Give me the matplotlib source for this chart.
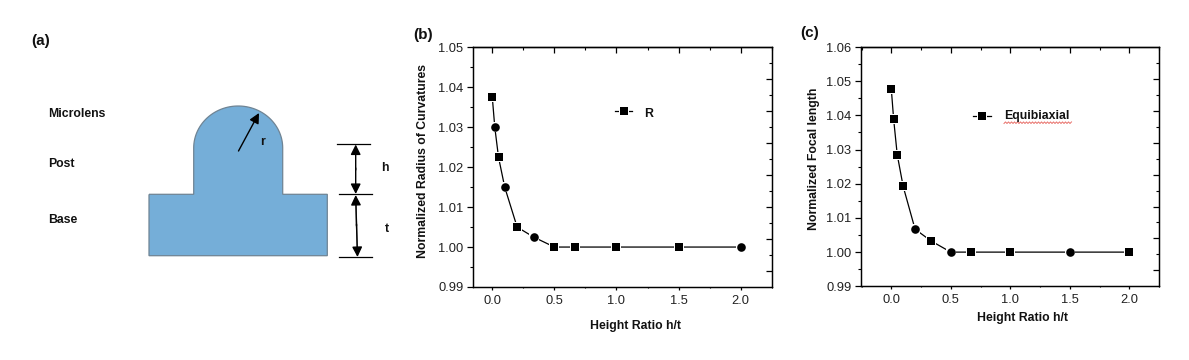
import numpy as np
import matplotlib
matplotlib.use('Agg')
import matplotlib.pyplot as plt
from matplotlib.patches import PathPatch
from matplotlib.path import Path
from matplotlib.ticker import MultipleLocator

W, H = 1189, 360

height_ratio = [0.0, 0.02, 0.05, 0.1, 0.2, 0.333, 0.5, 0.667, 1.0, 1.5, 2.0]
radius_curv = [1.0375, 1.030, 1.0225, 1.015, 1.005, 1.0025, 1.0, 1.0, 1.0, 1.0, 1.0]
focal_length = [1.0478, 1.0388, 1.0285, 1.0192, 1.0067, 1.0033, 1.0, 1.0, 1.0, 1.0, 1.0]
round_b = [1, 3, 5, 10]  # these symbols come out round in the source image
round_c = [4, 6, 9]
x_ticks = [0.0, 0.5, 1.0, 1.5, 2.0]

plt.rcParams['font.family'] = ['Liberation Sans', 'DejaVu Sans']
plt.rcParams['text.color'] = '#111111'

fig = plt.figure(figsize=(W / 100, H / 100), dpi=100, facecolor='white')


def add_axes_px(left, top, right, bottom):
    return fig.add_axes([left / W, 1 - bottom / H, (right - left) / W, (bottom - top) / H])


def text_px(x, y, s, **kw):
    kw.setdefault('fontweight', 'bold')
    kw.setdefault('fontsize', 8.8)
    kw.setdefault('va', 'center')
    fig.text(x / W, 1 - y / H, s, zorder=10, **kw)


def draw_panel(box, yvals, rounds, ylim, xlim):
    ax = add_axes_px(*box)
    ax.plot(height_ratio, yvals, '-', color='black', lw=0.9, zorder=2)
    # white halo gives the gap between line and symbol
    ax.plot(height_ratio, yvals, 's', color='white', ms=7.6, mew=0, zorder=3)
    squares = [i for i in range(len(yvals)) if i not in rounds]
    ax.plot(height_ratio, yvals, 's', color='black', ms=5.4, mew=0, markevery=squares, zorder=4)
    ax.plot(height_ratio, yvals, 'o', color='black', ms=6.2, mew=0, markevery=rounds, zorder=4)
    ax.set_xlim(*xlim)
    ax.set_ylim(*ylim)
    ax.set_xticks(x_ticks)
    ax.xaxis.set_minor_locator(MultipleLocator(0.25))
    ax.yaxis.set_major_locator(MultipleLocator(0.01))
    ax.yaxis.set_minor_locator(MultipleLocator(0.005))
    ax.xaxis.set_major_formatter(lambda v, p: f'{v:.1f}')
    ax.yaxis.set_major_formatter(lambda v, p: f'{v:.2f}')
    ax.tick_params(axis='y', which='major', labelsize=9.3, length=4, width=0.9, labelcolor='#222222', pad=3)
    ax.tick_params(axis='x', which='major', labelsize=9.3, length=2, width=0.9, labelcolor='#222222', pad=3.5)
    ax.tick_params(axis='y', which='minor', length=2, width=0.8)
    ax.tick_params(axis='x', which='minor', length=1, width=0.8)
    top = ax.secondary_xaxis('top')
    top.set_xticks(x_ticks)
    top.xaxis.set_minor_locator(MultipleLocator(0.25))
    top.tick_params(axis='x', which='major', direction='in', length=4, width=0.9, labeltop=False)
    top.tick_params(axis='x', which='minor', direction='in', length=2, width=0.8)
    right = ax.twinx()
    right.set_ylim(0, 15)
    right.set_yticks(range(1, 15, 2))
    right.set_yticks(range(2, 15, 2), minor=True)
    right.tick_params(axis='y', which='major', direction='in', length=4, width=0.9, labelright=False)
    right.tick_params(axis='y', which='minor', direction='in', length=2, width=0.8)
    for a in (ax, right):
        for s in a.spines.values():
            s.set_linewidth(0.9)
    top.spines['top'].set_linewidth(0.9)
    return ax


def legend_key(x0, x1, y):
    fig.add_artist(plt.Line2D([x0 / W, x1 / W], [1 - y / H] * 2, color='black', lw=0.9))
    xm = (x0 + x1) / 2
    fig.add_artist(plt.Line2D([xm / W], [1 - y / H], marker='s', color='white', ms=7.6, mew=0))
    fig.add_artist(plt.Line2D([xm / W], [1 - y / H], marker='s', color='black', ms=5.4, mew=0))


# panel (a), drawn in pixel coordinates of the figure
sk = fig.add_axes([0, 0, 1, 1], zorder=5)
sk.set_xlim(0, W)
sk.set_ylim(H, 0)
sk.axis('off')

theta = np.linspace(np.pi, 0, 60)
dome_x = 238.2 + 44.5 * np.cos(theta)
dome_y = 148 - 42 * np.sin(theta)
outline = [(149, 194.3), (193.7, 194.3)] + list(zip(dome_x, dome_y)) + [(282.7, 194.3), (327.3, 194.3), (327.3, 255.7), (149, 255.7), (149, 194.3)]
sk.add_patch(PathPatch(Path(outline), facecolor='#75AED8', edgecolor='#6f8494', lw=0.9))

arrow_black = dict(arrowstyle='-|>', color='black', lw=1.0, mutation_scale=15, shrinkA=0, shrinkB=0)
sk.annotate('', xy=(259, 113), xytext=(238.5, 151), arrowprops=arrow_black)
sk.annotate('', xy=(355.7, 144.5), xytext=(355.7, 170), arrowprops=arrow_black)
sk.annotate('', xy=(355.7, 194), xytext=(355.7, 168), arrowprops=arrow_black)
sk.annotate('', xy=(355.7, 195), xytext=(356.5, 226), arrowprops=arrow_black)
sk.annotate('', xy=(357.5, 257), xytext=(356.5, 224), arrowprops=arrow_black)
sk.plot([356, 357.2], [205, 247], color='#777777', lw=1.0)
for y0, x0, x1 in [(144, 337, 369.5), (194.3, 339, 371.5), (257.3, 339, 371.5)]:
    sk.plot([x0, x1], [y0, y0], color='black', lw=0.9)

text_px(31, 41, '(a)', fontsize=11)
text_px(48, 114, 'Microlens')
text_px(48, 164, 'Post')
text_px(48, 220, 'Base')
text_px(260, 142, 'r')
text_px(381, 168, 'h')
text_px(385, 229, 't')

# panels (b) and (c)
draw_panel((473.3, 47.3, 772.3, 287), radius_curv, round_b, (0.99, 1.05), (-0.153, 2.255))
draw_panel((861.3, 47, 1159, 286.3), focal_length, round_c, (0.99, 1.06), (-0.252, 2.25))

text_px(413, 35, '(b)', fontsize=11)
text_px(800, 33, '(c)', fontsize=11)
text_px(423, 161, 'Normalized Radius of Curvatures', rotation=90, ha='center')
text_px(814, 159, 'Normalized Focal length', rotation=90, ha='center')
text_px(635, 326, 'Height Ratio h/t', ha='center')
text_px(1022.7, 317.6, 'Height Ratio h/t', ha='center')

legend_key(615, 632, 111)
text_px(644, 114, 'R')
legend_key(973, 991, 116)
text_px(1004, 116, 'Equibiaxial')
# spell checker squiggle under the legend word
sq_x = np.arange(1004, 1073, 1.5)
sq_y = 122.7 + 0.8 * (-1.0) ** np.arange(len(sq_x))
sk.plot(sq_x, sq_y, color='#e8706a', lw=0.7)

fig.savefig('out.png', dpi=100)
